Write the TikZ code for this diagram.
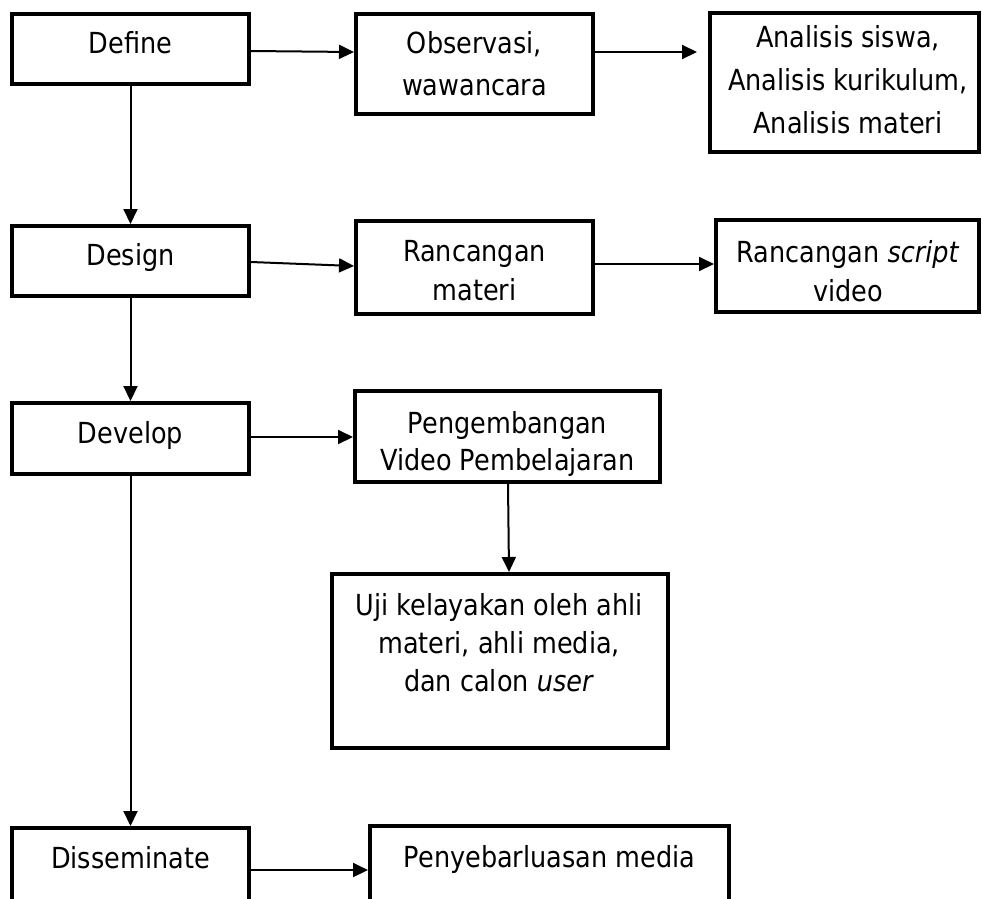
\documentclass[tikz,border=0pt]{standalone}
\usepackage{fontspec}
\setmainfont{DejaVu Sans}[FakeStretch=0.88,ItalicFont={DejaVu Sans Oblique}]
\usetikzlibrary{arrows.meta}
\begin{document}
\begin{tikzpicture}[x=1pt,y=-1pt,
  box/.style={draw, line width=3.9pt, inner sep=0pt},
  txt/.style={inner sep=0pt, anchor=base, align=center, font=\fontsize{29pt}{42pt}\selectfont},
  conn/.style={line width=2pt, -{Triangle[length=15pt,width=14pt]}}]
\fill[white] (0,0) rectangle (982,898);
\useasboundingbox (0,0) rectangle (982,898);
% boxes
\node[box, minimum width=237.1pt, minimum height=70.1pt] (define) at (130.5,49) {};
\node[box, minimum width=237.1pt, minimum height=100.1pt] (obs) at (474.5,64) {};
\node[box, minimum width=269.1pt, minimum height=139.1pt] (anal) at (844.5,82.5) {};
\node[box, minimum width=237.1pt, minimum height=70.1pt] (design) at (130.5,261) {};
\node[box, minimum width=237.1pt, minimum height=93.1pt] (ranc) at (474.5,267.5) {};
\node[box, minimum width=263.1pt, minimum height=92.1pt] (script) at (847.5,266) {};
\node[box, minimum width=237.1pt, minimum height=71.1pt] (develop) at (130.5,438.5) {};
\node[box, minimum width=305.1pt, minimum height=91.1pt] (peng) at (507.5,436.5) {};
\node[box, minimum width=336.1pt, minimum height=174.1pt] (uji) at (500,661) {};
\node[box, minimum width=237.1pt, minimum height=73.1pt] (diss) at (130.5,864.5) {};
\node[box, minimum width=359.1pt, minimum height=75.1pt] (peny) at (549.5,863.5) {};
% texts (base anchor = baseline of the last line)
\node[txt] (define-t) at (130.5,53) {Define};
\node[txt] (obs-t) at (474.5,95) {Observasi,\\wawancara};
\node[txt, font=\fontsize{29pt}{43pt}\selectfont] (anal-t) at (848,133) {Analisis siswa,\\Analisis kurikulum,\\Analisis materi};
\node[txt] (design-t) at (130.5,265) {Design};
\node[txt, font=\fontsize{29pt}{39pt}\selectfont] (ranc-t) at (474.5,300) {Rancangan\\materi};
\node[txt, font=\fontsize{29pt}{39pt}\selectfont] (script-t) at (848,301) {Rancangan \textit{script}\\video};
\node[txt] (develop-t) at (130.5,443) {Develop};
\node[txt, font=\fontsize{29pt}{37pt}\selectfont] (peng-t) at (507.5,470) {Pengembangan\\Video Pembelajaran};
\node[txt, font=\fontsize{29pt}{38pt}\selectfont] (uji-t) at (499,691) {Uji kelayakan oleh ahli\\materi, ahli media,\\dan calon \textit{user}};
\node[txt] (diss-t) at (130.5,868) {Disseminate};
\node[txt] (peny-t) at (549.5,867) {Penyebarluasan media};
% connectors
\draw[conn] ([yshift=-2pt]define.east) -- ([yshift=12pt]obs.west);
\draw[conn] ([yshift=12pt]obs.east) -- ([xshift=-11pt,yshift=30.5pt]anal.west);
\draw[conn] (define.south) -- (design.north);
\draw[conn] ([yshift=-1pt]design.east) -- ([yshift=1.5pt]ranc.west);
\draw[conn] ([yshift=3.5pt]ranc.east) -- ([yshift=2pt]script.west);
\draw[conn] (design.south) -- (develop.north);
\draw[conn] ([yshift=1.5pt]develop.east) -- ([yshift=-0.5pt]peng.west);
\draw[conn] ([xshift=0.5pt]peng.south) -- ([xshift=9pt]uji.north);
\draw[conn] (develop.south) -- (diss.north);
\draw[conn] ([yshift=-5.5pt]diss.east) -- ([yshift=-6.5pt]peny.west);
\end{tikzpicture}
\end{document}
